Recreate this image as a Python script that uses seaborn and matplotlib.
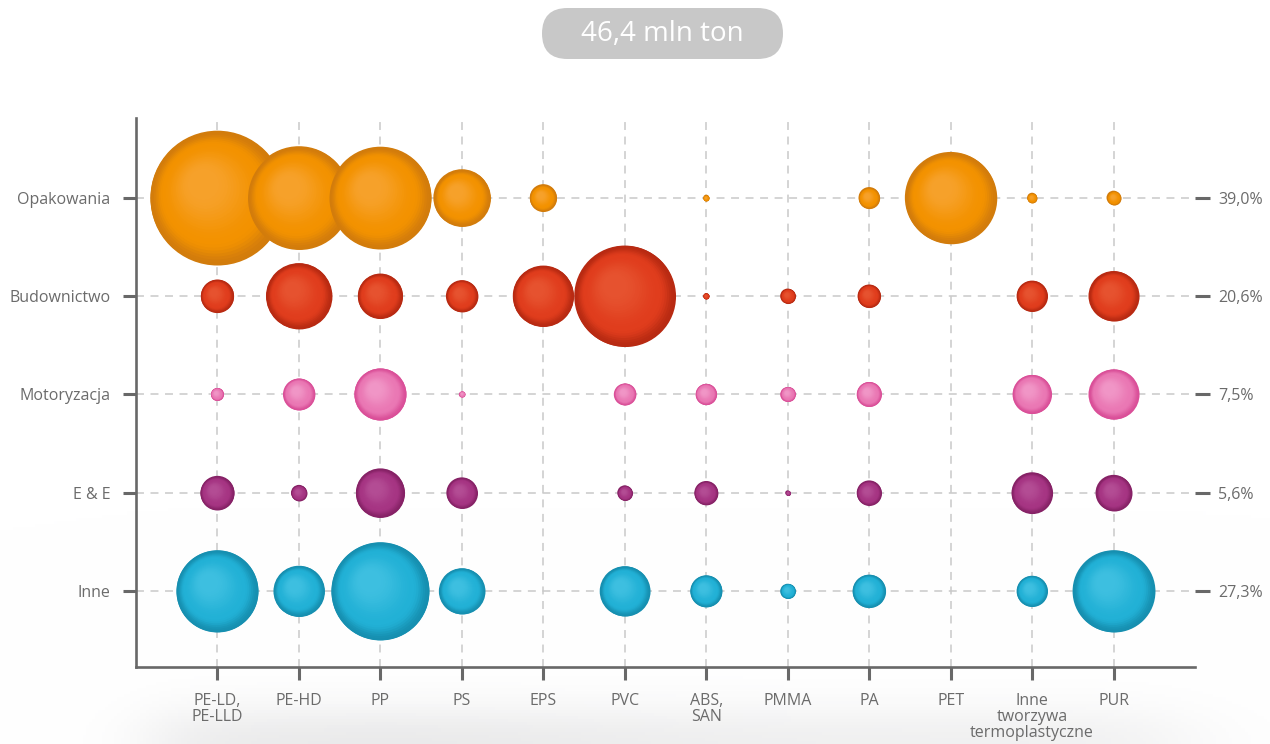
import numpy as np
import pandas as pd
import matplotlib
matplotlib.use("Agg")
import matplotlib.pyplot as plt
from matplotlib.path import Path
from matplotlib.markers import MarkerStyle
from matplotlib.patches import FancyBboxPatch
from matplotlib.colors import to_rgb
import seaborn as sns

nan = np.nan

# ---- data -------------------------------------------------------------
polymers = ["PE-LD,\nPE-LLD", "PE-HD", "PP", "PS", "EPS", "PVC", "ABS,\nSAN",
            "PMMA", "PA", "PET", "Inne\ntworzywa\ntermoplastyczne", "PUR"]
sectors = ["Opakowania", "Budownictwo", "Motoryzacja", "E & E", "Inne"]
shares = ["39,0%", "20,6%", "7,5%", "5,6%", "27,3%"]
total_label = "46,4 mln ton"

# demand per polymer, mln ton (NaN: no demand shown)
opakowania  = [6.37, 3.76, 3.69, 1.15, 0.26, nan, 0.013, nan, 0.16, 2.97, 0.035, 0.07]
budownictwo = [0.39, 1.54, 0.72, 0.36, 1.32, 3.62, 0.013, 0.08, 0.19, nan, 0.34, 0.89]
motoryzacja = [0.06, 0.36, 0.96, 0.013, nan, 0.17, 0.16, 0.08, 0.22, nan, 0.54, 0.89]
e_i_e       = [0.41, 0.09, 0.85, 0.34, nan, 0.08, 0.20, 0.009, 0.22, nan, 0.60, 0.46]
inne        = [2.38, 0.92, 3.40, 0.75, nan, 0.89, 0.36, 0.08, 0.39, nan, 0.34, 2.38]

# sphere colours per sector: rim, body, highlight
colors = {
    "Opakowania":  ("#d27c0c", "#f39200", "#f6a12a"),
    "Budownictwo": ("#b82a12", "#e03d1d", "#e6522f"),
    "Motoryzacja": ("#da4f98", "#ea78b4", "#f095c6"),
    "E & E":       ("#862266", "#a63583", "#b34c94"),
    "Inne":        ("#168fb0", "#22b1d6", "#3dbfe0"),
}

rows = [opakowania, budownictwo, motoryzacja, e_i_e, inne]
records = []
for si, (sector, vals) in enumerate(zip(sectors, rows)):
    for pi, v in enumerate(vals):
        records.append({"sector": sector, "polymer": pi, "row": si, "value": v})
df = pd.DataFrame(records).dropna().reset_index(drop=True)

# marker area (pt^2) per mln ton
SIZE_PER_MT = 1462.0

# ---- styling ----------------------------------------------------------
sns.set_theme(style="white")
FONT = ["Open Sans", "DejaVu Sans"]
plt.rcParams["font.family"] = FONT
TXT = "#6b6b6b"
AXC = "#686868"

fig = plt.figure(figsize=(12.7, 7.44), dpi=100, facecolor="white")

# soft floor shadow under the axis
bg = fig.add_axes([0, 0, 1, 1], zorder=-10)
gx = np.linspace(0, 1270, 400)
gy = np.linspace(0, 744, 240)
GX, GY = np.meshgrid(gx, gy)
haze = (np.exp(-((GY - 745) / 40.0) ** 2)
        * (1 / (1 + np.exp(-(GX - 150) / 25.0)))
        * (1 / (1 + np.exp((GX - 1180) / 40.0)))
        * (0.7 + 0.3 * np.exp(-((GX - 380) / 300.0) ** 2)))
img = np.ones(GX.shape + (3,)) - 0.08 * haze[..., None] * np.array([1.0, 1.0, 0.97])
bg.imshow(img, extent=[0, 1, 0, 1], aspect="auto", origin="upper")
bg.set_axis_off()

ax = fig.add_axes([136 / 1270, 77 / 744, (1195 - 136) / 1270, (667 - 118) / 744])
ax.patch.set_alpha(0)

sns.scatterplot(
    data=df, x="polymer", y="row", hue="sector", size="value",
    palette={k: v[0] for k, v in colors.items()},
    sizes=(SIZE_PER_MT * df["value"].min(), SIZE_PER_MT * df["value"].max()),
    linewidth=0, legend=False, ax=ax, zorder=3,
)


def lerp(c1, c2, t):
    a, b = np.array(to_rgb(c1)), np.array(to_rgb(c2))
    return tuple(a + (b - a) * t)


def smooth(u):
    u = min(max(u, 0.0), 1.0)
    return u * u * (3 - 2 * u)


def layer_marker(t):
    """Circle shrinking toward the upper-left as t grows (sphere shading)."""
    f = 1.0 - 0.8 * t
    circ = Path.circle(center=(-0.22 * t, 0.22 * t), radius=f)
    verts = np.vstack([[[1.0, 1.0]], circ.vertices])
    codes = np.concatenate([[Path.MOVETO], circ.codes])
    return MarkerStyle(Path(verts, codes))


N_LAYERS = 24
markers = [layer_marker(k / (N_LAYERS - 1)) for k in range(N_LAYERS)]

for b, rec in df.iterrows():
    rim, body, hi = colors[rec["sector"]]
    s = SIZE_PER_MT * rec["value"]
    for k in range(N_LAYERS):
        t = k / (N_LAYERS - 1)
        if t < 0.3:
            col = lerp(rim, body, smooth(t / 0.3))
        else:
            col = lerp(body, hi, smooth((t - 0.3) / 0.7))
        ax.scatter([rec["polymer"]], [rec["row"]], s=s, marker=markers[k],
                   color=[col], linewidths=0,
                   zorder=3 + (b + 1) * 0.01 + k * 0.0001)

# ---- axes -------------------------------------------------------------
ax.set_xlim(-1, 12)
ax.set_ylim(4.77, -0.81)
ax.set_xticks(range(len(polymers)))
ax.set_xticklabels(polymers, linespacing=1.0, fontsize=11.5, color=TXT, va="top")
ax.set_yticks(range(len(sectors)))
ax.set_yticklabels(sectors, fontsize=11.5, color=TXT)
ax.set_xlabel("")
ax.set_ylabel("")

ax.set_axisbelow(True)
ax.grid(True, linestyle=(0, (5.2, 4.3)), color="#c9c9c9", linewidth=1.1, zorder=0)

for side in ("top", "right"):
    ax.spines[side].set_visible(False)
for side in ("left", "bottom"):
    ax.spines[side].set_color(AXC)
    ax.spines[side].set_linewidth(1.9)

ax.tick_params(axis="both", bottom=True, left=True, length=9.5, width=2.2,
               color=AXC)
ax.tick_params(axis="x", pad=9)
ax.tick_params(axis="y", pad=9)

ax2 = ax.twinx()
ax2.set_ylim(ax.get_ylim())
ax2.set_yticks(range(len(shares)))
ax2.set_yticklabels(shares, fontsize=11.5, color=TXT)
ax2.tick_params(axis="y", right=True, length=10.5, width=2.2, color=AXC, pad=6)
ax2.grid(False)
ax2.patch.set_alpha(0)
for sp in ax2.spines.values():
    sp.set_visible(False)

# ---- total badge ------------------------------------------------------
badge = FancyBboxPatch((5.42, 6.85), 2.41, 0.51,
                       boxstyle="round,pad=0,rounding_size=0.255",
                       transform=fig.dpi_scale_trans, facecolor="#c8c8c8",
                       edgecolor="none")
fig.add_artist(badge)
fig.text(6.625 / 12.7, 7.10 / 7.44, total_label, ha="center", va="center",
         color="white", fontsize=20)

fig.savefig("out.png", dpi=100, facecolor="white")
